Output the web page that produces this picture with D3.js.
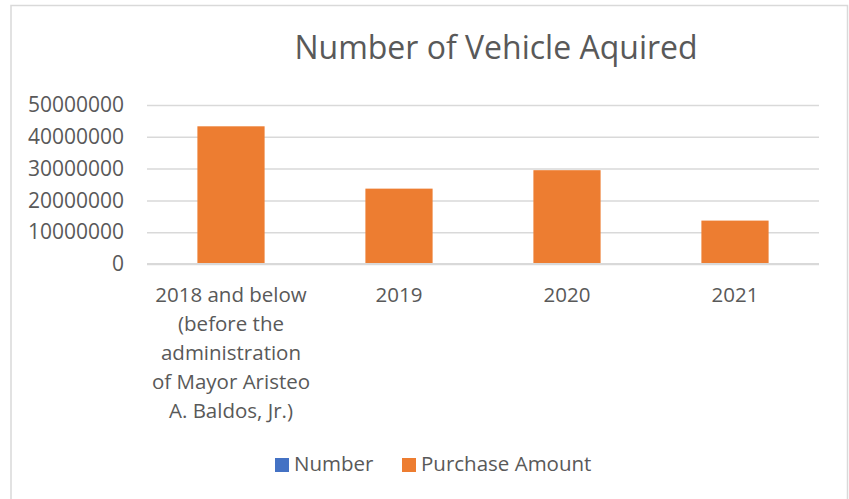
<!DOCTYPE html>
<html>
  <head>
    <script src="https://d3js.org/d3.v7.min.js"></script>
    <style>
      body { margin: 0; background: #fff; }
      text { font-family: "Open Sans", "Noto Sans", sans-serif; fill: #595959; }
    </style>
  </head>
  <body>
    <svg id="chart" width="849" height="499"></svg>
    <script>
      // chart data
      const categories = ["2018 and below (before the administration of Mayor Aristeo A. Baldos, Jr.)", "2019", "2020", "2021"];
      const categoryLines = [
        ["2018 and below", "(before the", "administration", "of Mayor Aristeo", "A. Baldos, Jr.)"],
        ["2019"], ["2020"], ["2021"]
      ];
      const purchaseAmount = [43300000, 23700000, 29500000, 13650000];
      const yTicks = [0, 10000000, 20000000, 30000000, 40000000, 50000000];
      const seriesNames = ["Number", "Purchase Amount"];
      const seriesColors = ["#4472C4", "#ED7D31"];
      const title = "Number of Vehicle Aquired";

      const svg = d3.select("#chart");

      // chart border
      svg.append("rect")
        .attr("x", 11).attr("y", 5.5)
        .attr("width", 836.5).attr("height", 510)
        .attr("fill", "none")
        .attr("stroke", "#d9d9d9")
        .attr("stroke-width", 1.5);

      const plot = {left: 147, right: 819, top: 105, bottom: 264};

      const x = d3.scaleBand()
        .domain(categories)
        .range([plot.left, plot.right])
        .paddingInner(0.6)
        .paddingOuter(0.3);
      const y = d3.scaleLinear()
        .domain([0, 50000000])
        .range([plot.bottom, plot.top]);

      // gridlines
      const grid = svg.append("g")
        .attr("transform", `translate(${plot.left},0)`)
        .call(d3.axisLeft(y).tickValues(yTicks).tickSize(-(plot.right - plot.left)).tickFormat(""));
      grid.select(".domain").remove();
      grid.selectAll("line").attr("stroke", "#d9d9d9").attr("stroke-width", 1.5);

      // y axis labels
      const yAxis = svg.append("g")
        .attr("transform", `translate(124,0)`)
        .call(d3.axisLeft(y).tickValues(yTicks).tickSize(0).tickPadding(0).tickFormat(d3.format("d")));
      yAxis.select(".domain").remove();
      yAxis.selectAll("text")
        .attr("fill", "#595959")
        .style("font-size", "21px")
        .style("font-family", "'Open Sans', sans-serif");

      // bars
      svg.append("g").selectAll("rect")
        .data(purchaseAmount)
        .join("rect")
        .attr("x", (d, i) => x(categories[i]))
        .attr("y", d => y(d))
        .attr("width", x.bandwidth())
        .attr("height", d => y(0) - y(d))
        .attr("fill", seriesColors[1]);

      // x axis line
      svg.append("line")
        .attr("x1", plot.left).attr("x2", plot.right)
        .attr("y1", y(0)).attr("y2", y(0))
        .attr("stroke", "#d9d9d9")
        .attr("stroke-width", 2);

      // category labels
      categoryLines.forEach((lines, i) => {
        const cx = x(categories[i]) + x.bandwidth() / 2;
        svg.append("text")
          .attr("text-anchor", "middle")
          .style("font-size", "20.5px")
          .selectAll("tspan")
          .data(lines)
          .join("tspan")
          .attr("x", cx)
          .attr("y", (d, j) => 302 + j * 29)
          .text(d => d);
      });

      // title
      svg.append("text")
        .attr("x", 496)
        .attr("y", 59)
        .attr("text-anchor", "middle")
        .style("font-size", "32px")
        .text(title);

      // legend
      const legendX = [275, 402];
      seriesNames.forEach((name, i) => {
        svg.append("rect")
          .attr("x", legendX[i]).attr("y", 458)
          .attr("width", 14).attr("height", 14)
          .attr("fill", seriesColors[i]);
        svg.append("text")
          .attr("x", legendX[i] + 19)
          .attr("y", 471)
          .style("font-size", "20.5px")
          .text(name);
      });
    </script>
  </body>
</html>
